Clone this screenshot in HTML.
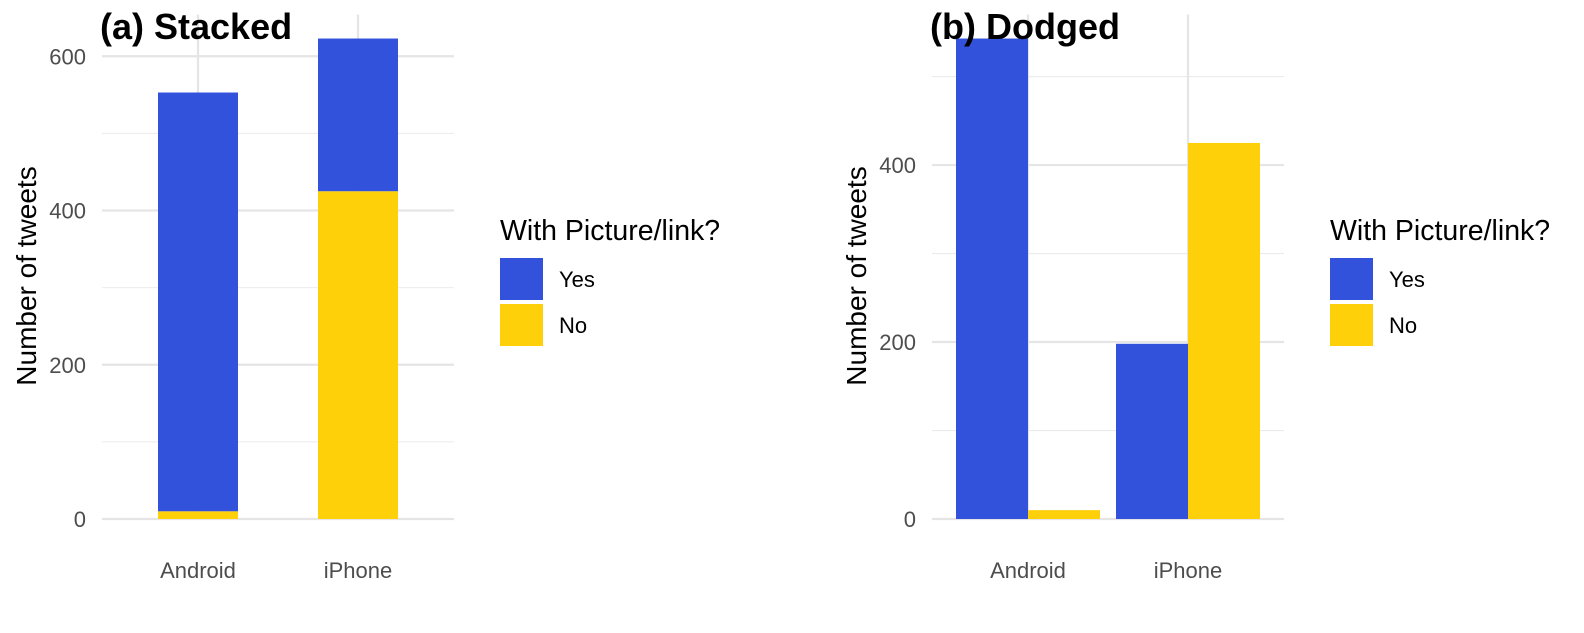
<!DOCTYPE html>
<html><head><meta charset="utf-8"><style>
html,body{margin:0;padding:0;background:#fff}
svg{display:block;font-family:"Liberation Sans",Arial,sans-serif}
</style></head><body>
<svg id="c" width="1584" height="633" viewBox="0 0 1584 633"></svg>
<script>
const categories = ["Android","iPhone"];
const seriesNames = ["Yes","No"];
const yesValues = [543, 198];
const noValues = [10, 425];
const ticksA = [0,200,400,600];
const ticksB = [0,200,400];
const colors = {Yes:"#3252db", No:"#fed00a"};
const NS="http://www.w3.org/2000/svg";
const svg=document.getElementById('c');
function mk(tag,attrs,parent){const e=document.createElementNS(NS,tag);for(const k in attrs)e.setAttribute(k,attrs[k]);(parent||svg).appendChild(e);return e;}

function panel(cfg){
  const g=mk('g',{});
  
  
  const x0=cfg.x0,x1=cfg.x1,yb=519,yt=14.5;
  const maxV=cfg.maxV*1.05;
  const y=v=>yb-(yb-yt)*v/maxV;
  const xs=i=>x0+(x1-x0)*((i+1)-0.4)/2.2;
  const unit=(x1-x0)/2.2;
  for(let i=0;i<cfg.ticks.length;i++){
    const mv=cfg.ticks[i]+ (cfg.ticks[1]-cfg.ticks[0])/2;
    if(y(mv)>yt){const l=mk('line',{x1:x0,x2:x1,y1:y(mv),y2:y(mv),stroke:"#ebebeb","stroke-width":1.1},g);
      }
  }
  cfg.ticks.forEach(t=>{
    const l=mk('line',{x1:x0,x2:x1,y1:y(t),y2:y(t),stroke:"#e5e5e5","stroke-width":2.2},g);
    
    const tx=mk('text',{x:x0-16,y:y(t)+8,"text-anchor":"end","font-size":22,fill:"#4d4d4d"},g);
    tx.textContent=t;
    
  });
  categories.forEach((c,i)=>{
    const l=mk('line',{x1:xs(i),x2:xs(i),y1:yt,y2:yb,stroke:"#e5e5e5","stroke-width":2.2},g);
    
    const tx=mk('text',{x:xs(i),y:578,"text-anchor":"middle","font-size":22,fill:"#4d4d4d"},g);
    tx.textContent=c;
    
  });
  categories.forEach((c,i)=>{
    if(cfg.stacked){
      const w=unit*0.5, bx=xs(i)-w/2;
      const r1=mk('rect',{x:bx,width:w,y:y(noValues[i]),height:y(0)-y(noValues[i]),fill:colors.No},g);
      
      const tot=noValues[i]+yesValues[i];
      const r2=mk('rect',{x:bx,width:w,y:y(tot),height:y(noValues[i])-y(tot),fill:colors.Yes},g);
      
    } else {
      const w=unit*0.45;
      const r1=mk('rect',{x:xs(i)-w,width:w,y:y(yesValues[i]),height:y(0)-y(yesValues[i]),fill:colors.Yes},g);
      
      const r2=mk('rect',{x:xs(i),width:w,y:y(noValues[i]),height:y(0)-y(noValues[i]),fill:colors.No},g);
      
    }
  });
  const at=mk('text',{x:0,y:0,transform:`translate(${cfg.titleX},276) rotate(-90)`,"text-anchor":"middle","font-size":28,fill:"#000"},g);
  at.textContent="Number of tweets";
  
  const pt=mk('text',{x:cfg.x0-2,y:39,"font-size":36,"font-weight":"bold",fill:"#000"},g);
  pt.textContent=cfg.title;
  
  const lg=mk('g',{},g);
  
  const lt=mk('text',{x:cfg.legX,y:240,"font-size":28.5,fill:"#000"},lg);
  lt.textContent="With Picture/link?";
  
  seriesNames.forEach((s,k)=>{
    const r=mk('rect',{x:cfg.legX,y:258+k*46,width:43,height:42,fill:colors[s]},lg);
    
    const t=mk('text',{x:cfg.legX+59,y:287+k*46,"font-size":22,fill:"#000"},lg);
    t.textContent=s;
    
  });
}
panel({name:'panel-stacked',x0:102,x1:454,maxV:Math.max(...categories.map((c,i)=>yesValues[i]+noValues[i])),ticks:ticksA,stacked:true,titleX:36,title:"(a) Stacked",legX:500});
panel({name:'panel-dodged',x0:932,x1:1284,maxV:Math.max(...yesValues,...noValues),ticks:ticksB,stacked:false,titleX:866,title:"(b) Dodged",legX:1330});
</script>
</body></html>
